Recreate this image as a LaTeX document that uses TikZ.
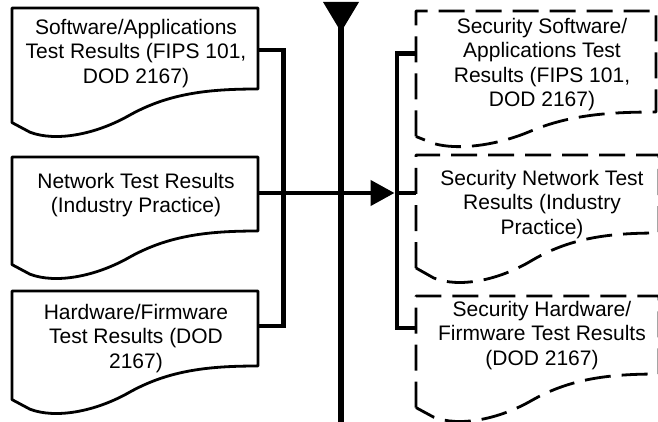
\documentclass[tikz,border=0pt]{standalone}
\usepackage{fontspec}
\setmainfont{Liberation Sans}
\usetikzlibrary{arrows.meta,calc}

\tikzset{
  docline/.style={line width=2.8pt, line join=round},
  dashdoc/.style={docline, dash pattern=on 26pt off 11pt},
  conn/.style={line width=4.5pt},
  doctext/.style={anchor=north, inner sep=0pt, align=center,
                  font=\fontsize{21}{24.5}\selectfont},
}

% document symbol: #1 style, #2 left, #3 top, #4 right, #5 bottom at right edge, #6 wave depth
\newcommand\docoutline[6]{%
  \draw[#1] ({#2},{#5+0.7*#6}) -- ({#2},{#3}) -- ({#4},{#3}) -- ({#4},{#5})
    .. controls ({#2+0.805*(#4-#2)},{#5}) and ({#2+0.642*(#4-#2)},{#5+0.08*#6})
    .. ({#2+0.48*(#4-#2)},{#5+0.54*#6})
    .. controls ({#2+0.337*(#4-#2)},{#5+0.96*#6}) and ({#2+0.175*(#4-#2)},{#5+1.1*#6})
    .. ({#2+0.073*(#4-#2)},{#5+0.9*#6}) -- cycle;}

\begin{document}
\begin{tikzpicture}[x=1pt,y=-1pt]
\useasboundingbox (0,0) rectangle (658,422);
\fill[white] (0,0) rectangle (658,422);

% input documents
\docoutline{docline}{12}{8}{258}{89}{48}
\docoutline{docline}{12}{157}{258}{231}{48}
\docoutline{docline}{12}{291}{258}{366}{48}

% security documents
\docoutline{dashdoc}{416}{11}{656}{112}{35}
\docoutline{dashdoc}{416}{155}{659}{233}{50}
\docoutline{dashdoc}{416}{296}{659}{374}{48}

% texts
\node[doctext] (swText) at (136,16.85) {\strut Software/Applications\\Test Results (FIPS 101,\\DOD 2167)};
\node[doctext] (ntText) at (136,170.85) {\strut Network Test Results\\(Industry Practice)};
\node[doctext] (hwText) at (136,301.85) {\strut Hardware/Firmware\\Test Results (DOD\\2167)};
\node[doctext] (ssText) at (542,15.85) {\strut Security Software/\\Applications Test\\Results (FIPS 101,\\DOD 2167)};
\node[doctext] (snText) at (542,167.85) {\strut Security Network Test\\Results (Industry\\Practice)};
\node[doctext] (shText) at (542,298.85) {\strut Security Hardware/\\Firmware Test Results\\(DOD 2167)};

% main flow line with its marker
\coordinate (mastTop) at (341,20);
\coordinate (mastFoot) at (341,422);
\fill (323,2) -- (359,2) -- (341,32) -- cycle;
\draw[line width=6pt] (mastTop) -- (mastFoot);

% connection points
\coordinate (swOut) at (258,50);
\coordinate (ntOut) at (258,193);
\coordinate (hwOut) at (258,326);
\coordinate (busLtop) at (283.5,50);
\coordinate (busLbot) at (283.5,326);
\coordinate (ssIn) at (416,53.5);
\coordinate (snIn) at (416,193);
\coordinate (shIn) at (416,328);
\coordinate (busRtop) at (397,53.5);
\coordinate (busRmid) at (397,193);
\coordinate (busRbot) at (397,328);
\coordinate (arrowEnd) at (394.5,193);

% connectors
\draw[conn] (swOut) -- (busLtop) -- (busLbot) -- (hwOut);
\draw[conn] (ssIn) -- (busRtop) -- (busRbot) -- (shIn);
\draw[conn] (busRmid) -- (snIn);
\draw[conn,-{Triangle[length=24pt,width=25pt]}] (ntOut) -- (arrowEnd);
\end{tikzpicture}
\end{document}
